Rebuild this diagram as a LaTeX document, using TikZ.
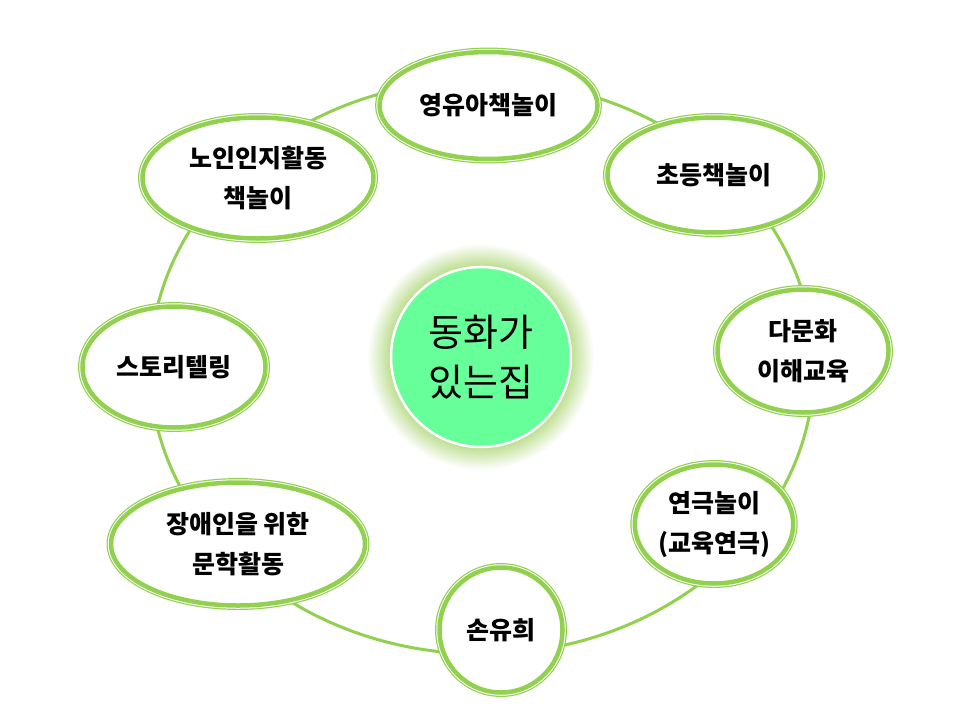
\documentclass[tikz,border=0pt]{standalone}
\usepackage{fontspec}
\setmainfont{Noto Sans CJK KR}
\usetikzlibrary{shapes.geometric}
\definecolor{lg}{RGB}{146,208,80}
\definecolor{hubfill}{RGB}{102,255,153}
\definecolor{glowc}{RGB}{175,215,120}
\begin{document}
\begin{tikzpicture}[x=1pt,y=-1pt,
  bubble/.style={ellipse, inner sep=0pt, fill=white, draw=lg, line width=4.5pt,
     preaction={draw=lg, line width=8.9pt}, preaction={draw=white, line width=6.5pt},
     align=center, font=\bfseries\fontsize{25}{40}\selectfont, text=black},
  ringline/.style={draw=lg, line width=3pt},
  hubnode/.style={circle, inner sep=0pt, minimum size=180pt, fill=hubfill, draw=white,
     line width=2.5pt, align=center, font=\fontsize{38}{50}\selectfont, text=black}]
\useasboundingbox (0,0) rectangle (960,720);
\fill[white] (0,0) rectangle (960,720);
\coordinate (ringc) at (482,367);
\draw[ringline] (ringc) ellipse [x radius=332, y radius=287];
\coordinate (hubc) at (481,357);
\foreach \i in {0,...,16} {
  \pgfmathsetmacro{\rr}{114-1.4*\i}
  \pgfmathtruncatemacro{\kk}{5*\i}
  \fill[glowc!\kk!white] (hubc) circle [radius=\rr];
}
\node[hubnode] (hub) at (hubc) {동화가\\있는집};
\node[bubble, minimum width=218pt, minimum height=107pt] (yy) at (488.5,105.5) {영유아책놀이};
\node[bubble, minimum width=213pt, minimum height=115pt] (cd) at (714,175) {초등책놀이};
\node[bubble, minimum width=231pt, minimum height=121pt] (nin) at (258,178) {노인인지활동\\책놀이};
\node[bubble, minimum width=183pt, minimum height=121pt] (st) at (174,367) {스토리텔링};
\node[bubble, minimum width=171pt, minimum height=123pt] (dm) at (803,351) {다문화\\이해교육};
\node[bubble, minimum width=156pt, minimum height=119pt] (yg) at (714,524) {연극놀이\\(교육연극)};
\node[bubble, minimum width=123pt, minimum height=125pt] (sy) at (501,630) {손유희};
\node[bubble, minimum width=254pt, minimum height=123pt] (ja) at (238,544) {장애인을 위한\\문학활동};
\end{tikzpicture}
\end{document}
